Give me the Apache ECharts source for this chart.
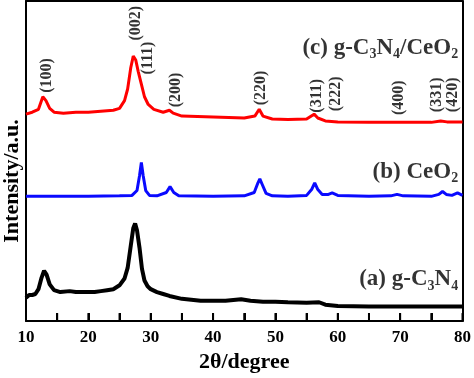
<!DOCTYPE html>
<html><head><meta charset="utf-8">
<script src="https://cdn.jsdelivr.net/npm/echarts@6/dist/echarts.min.js"></script>
<style>html,body{margin:0;padding:0;background:#fff}#c{width:474px;height:378px}</style>
</head><body><div id="c"></div>
<script>
const xTicks = [10, 20, 30, 40, 50, 60, 70, 80];
const tickValues = [10, 15, 20, 25, 30, 35, 40, 45, 50, 55, 60, 65, 70, 75, 80];
const gC3N4 = [[10,24],[10.5,27],[11,27],[11.5,28],[12,33],[12.5,45],[12.9,52],[13.3,48],[13.8,38],[14.5,32],[15.5,30],[17,31],[18,30],[20,30],[21,30],[22,31],[23,32],[24,33],[25,37],[25.8,44],[26.3,55],[26.8,78],[27.2,96],[27.5,101],[27.8,94],[28.2,76],[28.6,54],[29,42],[29.5,36],[30,33],[31,30],[32,28],[33,26],[35,23],[38,21],[40,21],[42,21],[44.5,22.5],[46,21],[48,20],[50,20],[52,19.5],[55,19],[57,19.5],[58,17],[60,15.5],[65,15],[70,15],[75,15],[80,15]];
const ceO2 = [[10,129],[15,129],[20,129],[25,129.5],[27,130],[27.8,135],[28.2,150],[28.5,164],[28.8,150],[29.2,135],[29.8,130],[31,129.5],[32.5,133],[33.1,139],[33.7,133],[34.5,129.5],[40,129],[45,129.5],[46.6,133],[47.2,143],[47.5,147],[47.9,141],[48.5,132],[49.5,129.5],[52,129],[55,130],[55.8,136],[56.3,143],[56.8,136],[57.5,131],[58.5,131],[59.1,132.5],[60,130],[65,129],[68.5,129.5],[69.5,131],[70.5,129.5],[75,129],[76.2,131],[76.8,134],[77.4,131],[78.3,130],[79.2,132.5],[80,130]];
const composite = [[10,214],[11,216],[12,219],[12.7,232],[13.2,228],[13.8,220],[14.5,216],[16,215],[18,216],[20,216],[22,217],[24,218],[25,220],[25.8,228],[26.3,240],[26.8,262],[27.2,274],[27.6,270],[28,258],[28.5,245],[29,232],[29.6,224],[30.5,219],[32,216],[33,218],[33.6,215],[35,212],[40,211],[45,210],[46.7,212],[47.4,219],[48,212],[49.5,209],[52,208.5],[55,209],[56.2,214],[56.8,210],[58,207],[60,206],[65,205.5],[70,205.5],[75,205.5],[76.5,207],[77.5,206],[80,206]];
const hklText = ['(100)','(002)','(111)','(200)','(220)','(311)','(222)','(400)','(331)','(420)'];
const hklX = [13.35,27.6,29.6,34.0,47.7,56.7,59.7,69.8,75.85,78.4];
const hklY = [254,308,272,239,241,233,235,231,234,234];
const sampleNames = ['{n|(c) g-C}{s|3}{n|N}{s|4}{n|/CeO}{s|2}','{n|(b) CeO}{s|2}','{n|(a) g-C}{s|3}{n|N}{s|4}'];
const sampleX = [79.3,79.3,79.3];
const sampleY = [282,154,43];

const F = '"Liberation Serif","DejaVu Serif",serif';
const chart = echarts.init(document.getElementById('c'));
const frameAxis = () => ({show:true,onZero:false,lineStyle:{color:'#000',width:2}});
chart.setOption({
  animation:false,
  grid:{left:26,right:9,top:1,bottom:46},
  xAxis:[{type:'value',min:10,max:80,interval:5,position:'bottom',
    axisLine:frameAxis(),
    axisTick:{show:true,inside:true,length:8,lineStyle:{color:'#000',width:2}},
    splitLine:{show:false},
    axisLabel:{color:'#000',fontFamily:F,fontWeight:'bold',fontSize:17,margin:8,
      formatter:v=>xTicks.includes(v)?String(v):''},
    name:'2θ/degree',nameLocation:'middle',nameGap:26,
    nameTextStyle:{color:'#000',fontFamily:F,fontWeight:'bold',fontSize:22}},
   {type:'value',min:10,max:80,position:'top',axisLine:frameAxis(),
    axisTick:{show:false},axisLabel:{show:false},splitLine:{show:false}}],
  yAxis:[{type:'value',min:0,max:331,position:'left',
    axisLine:frameAxis(),axisTick:{show:false},axisLabel:{show:false},splitLine:{show:false}},
   {type:'value',min:0,max:331,position:'right',
    axisLine:frameAxis(),axisTick:{show:false},axisLabel:{show:false},splitLine:{show:false}}],
  graphic:[{type:'text',x:12,y:181,rotation:Math.PI/2,
    style:{text:'Intensity/a.u.',font:'bold 22px '+F,fill:'#000',textAlign:'center',textVerticalAlign:'middle'}}],
  series:[
    {type:'custom',silent:true,clip:false,z:10,data:tickValues.map(v=>[v,0]),
      encode:{x:0,y:1},
      renderItem:(params,api)=>{
        const p = api.coord([api.value(0),api.value(1)]);
        return {type:'rect',shape:{x:p[0]-1,y:p[1]-8,width:2,height:8},style:{fill:'#000'}};
      }},
    {type:'line',data:gC3N4,showSymbol:false,lineStyle:{color:'#000',width:4},z:3},
    {type:'line',data:ceO2,showSymbol:false,lineStyle:{color:'#0a0aff',width:3},z:3},
    {type:'line',data:composite,showSymbol:false,lineStyle:{color:'#ff0000',width:3},z:3},
    {type:'scatter',symbolSize:0,silent:true,
      data:hklText.map((t,i)=>({value:[hklX[i],hklY[i]],name:t})),
      label:{show:true,position:'inside',rotate:90,formatter:p=>'{h|'+p.name+'}',
        rich:{h:{color:'#000',fontFamily:F,fontWeight:'bold',fontSize:16}}}},
    {type:'scatter',symbolSize:0,silent:true,
      data:sampleNames.map((t,i)=>({value:[sampleX[i],sampleY[i]],name:t})),
      label:{show:true,position:'left',distance:0,formatter:p=>p.name,
        rich:{n:{color:'#000',fontFamily:F,fontWeight:'bold',fontSize:23},
              s:{color:'#000',fontFamily:F,fontWeight:'bold',fontSize:14,padding:[13,0,0,0]}}}}
  ]
});
</script></body></html>
